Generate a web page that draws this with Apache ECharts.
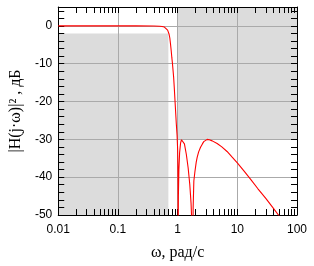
<!DOCTYPE html>
<html>
<head>
<meta charset="utf-8">
<script src="https://cdn.jsdelivr.net/npm/echarts@6/dist/echarts.min.js"></script>
<style>
html, body { margin: 0; padding: 0; background: #fff; }
#chart { width: 314px; height: 266px; }
</style>
</head>
<body>
<div id="chart"></div>
<script>
// частоты (рад/с) и АЧХ в дБ
var omega = [0.01, 0.2, 0.4, 0.5, 0.55, 0.6, 0.64, 0.68, 0.7, 0.72, 0.74, 0.76, 0.78, 0.8, 0.82,
  0.857, 0.88, 0.916, 0.95, 0.98, 1.0, 1.01, 1.015, 1.02, 1.03, 1.05, 1.08, 1.12, 1.16, 1.2,
  1.25, 1.3, 1.4, 1.5, 1.6, 1.68, 1.74, 1.78, 1.82, 1.87, 1.95, 2.05, 2.13, 2.25, 2.42, 2.6,
  2.74, 2.95, 3.13, 3.4, 3.8, 4.59, 5.5, 6.73, 8.2, 10, 13, 17, 22, 30, 40, 50, 60];
var gainDb = [0, 0, -0.02, -0.08, -0.15, -0.3, -0.6, -1.1, -1.5, -2.2, -3.2, -4.8, -6.5, -8.4, -10,
  -13.5, -16.5, -21.4, -25.8, -29, -32.5, -37, -42, -60, -45, -38, -33.5, -31, -30.1, -29.8,
  -30.2, -31.2, -34, -37.5, -42, -47, -53, -65, -48, -41, -38.5, -36, -34.7, -33.3, -32.1, -31.2,
  -30.6, -30.15, -30, -30.1, -30.4, -31.1, -32, -33.2, -34.7, -36.2, -38.4, -40.7, -43, -45.6, -48.2, -50.2, -51.8];

// серые области требований: [wMin, wMax, dbMin, dbMax]
var passBox = [0.01, 0.7, -50, -2];
var stopBox = [1, 100, -30, 5];

// деления осей
var decades = [0.01, 0.1, 1, 10];
var minorMult = [2, 3, 4, 5, 6, 7, 8, 9];
var yLabels = [-50, -40, -30, -20, -10, 0];

var xTicks = [];
decades.forEach(function (d) {
  xTicks.push(d);
  minorMult.forEach(function (m) { xTicks.push(+(d * m).toPrecision(3)); });
});
xTicks.push(100);
var yTicks = [];
for (var v = -50; v <= 4; v += 2) yTicks.push(v);

var myChart = echarts.init(document.getElementById('chart'));

function tickAxis(pos, showLine) {
  return {
    type: 'log', logBase: 10, min: 0.01, max: 100, position: pos,
    axisLine: { show: showLine, onZero: false, lineStyle: { color: '#000', width: 1 } },
    axisTick: { show: true, inside: true, length: 6, customValues: xTicks, lineStyle: { color: '#000' } },
    axisLabel: { show: false },
    splitLine: { show: false },
    z: 4
  };
}
function yTickAxis(pos) {
  return {
    type: 'value', min: -50, max: 5, position: pos,
    axisLine: { show: true, onZero: false, lineStyle: { color: '#000', width: 1 } },
    axisTick: { show: true, inside: true, length: 6, customValues: yTicks, lineStyle: { color: '#000' } },
    axisLabel: { show: false },
    splitLine: { show: false },
    z: 4
  };
}

var option = {
  animation: false,
  grid: { left: 57, right: 17, top: 7, bottom: 45, containLabel: false },
  xAxis: [
    {
      type: 'log', logBase: 10, min: 0.01, max: 100, position: 'bottom',
      axisLine: { show: false, onZero: false },
      axisTick: { show: false },
      axisLabel: { color: '#000', fontSize: 12, fontFamily: 'Liberation Sans', margin: 9 },
      splitLine: { show: true, lineStyle: { color: '#aaa', width: 1 } },
      name: 'ω, рад/с', nameLocation: 'middle', nameGap: 30,
      nameTextStyle: { color: '#000', fontSize: 16, fontFamily: 'Liberation Serif' },
      z: 3
    },
    tickAxis('bottom', true),
    tickAxis('top', true)
  ],
  yAxis: [
    {
      type: 'value', min: -50, max: 5, interval: 10, position: 'left',
      axisLine: { show: false, onZero: false },
      axisTick: { show: false },
      axisLabel: {
        color: '#000', fontSize: 12, fontFamily: 'Liberation Sans', margin: 6,
        formatter: function (v) { return yLabels.indexOf(v) >= 0 ? String(v) : ''; }
      },
      splitLine: { show: true, lineStyle: { color: '#aaa', width: 1 } },
      name: '|H(j·ω)|² , дБ', nameLocation: 'middle', nameGap: 30, nameRotate: 90,
      nameTextStyle: { color: '#000', fontSize: 16, fontFamily: 'Liberation Serif' },
      z: 3
    },
    yTickAxis('left'),
    yTickAxis('right')
  ],
  series: [
    {
      type: 'line', data: [], z: 1, silent: true,
      markArea: {
        silent: true,
        itemStyle: { color: '#dcdcdc' },
        data: [
          [{ xAxis: passBox[0], yAxis: passBox[2] }, { xAxis: passBox[1], yAxis: passBox[3] }],
          [{ xAxis: stopBox[0], yAxis: stopBox[2] }, { xAxis: stopBox[1], yAxis: stopBox[3] }]
        ]
      }
    },
    {
      type: 'line', z: 5, showSymbol: false, clip: true,
      data: omega.map(function (w, i) { return [w, gainDb[i]]; }),
      lineStyle: { color: '#ff0000', width: 1.1 }
    }
  ]
};
myChart.setOption(option);
window.addEventListener('resize', function () { myChart.resize(); });
</script>
</body>
</html>
